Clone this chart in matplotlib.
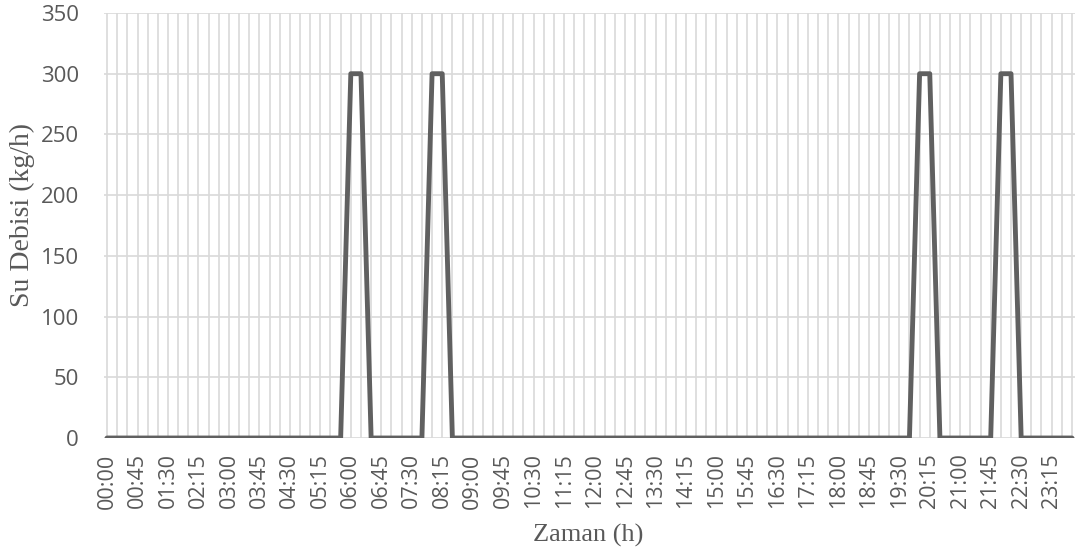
import matplotlib
matplotlib.use("Agg")
import matplotlib.pyplot as plt
import numpy as np

# 15-minute time slots over a day
times = [f"{h:02d}:{m:02d}" for h in range(24) for m in (0, 15, 30, 45)]
flow = [0] * 96
peak_slots = ["06:00", "06:15", "08:00", "08:15", "20:00", "20:15", "22:00", "22:15"]
peak_value = 300
for t in peak_slots:
    flow[times.index(t)] = peak_value

yticks = [0, 50, 100, 150, 200, 250, 300, 350]

fig = plt.figure(figsize=(10.8, 5.54), dpi=100)
ax = fig.add_axes([104/1080, 1 - 438/554, (1075 - 104)/1080, (438 - 13)/554])

x = np.arange(len(times))
ax.plot(x, flow, color="#606060", linewidth=3.5, solid_joinstyle="round", solid_capstyle="round", zorder=3)

ax.set_xlim(-0.3, len(times) - 0.7)
ax.set_ylim(0, 350)
ax.set_yticks(yticks)
ax.set_xticks(x, minor=False)
ax.set_xticklabels([t if i % 3 == 0 else "" for i, t in enumerate(times)], rotation=90,
                   fontsize=15.5, color="#595959", family="Open Sans")
ax.set_yticklabels([str(v) for v in yticks], fontsize=16, color="#595959", family="Open Sans")
ax.tick_params(axis="x", length=0, pad=11)
ax.tick_params(axis="y", length=0, pad=18)
ax.grid(True, color="#d9d9d9", linewidth=1.2, zorder=0)
ax.set_axisbelow(True)
for s in ax.spines.values():
    s.set_visible(False)

fig.text(22/1080, 1 - 215/554, "Su Debisi (kg/h)", family="Liberation Serif", fontsize=20,
         color="#595959", rotation=90, ha="center", va="center")
fig.text(588/1080, 1 - 535/554, "Zaman (h)", family="Liberation Serif", fontsize=19,
         color="#595959", ha="center", va="center")

fig.savefig("out.png", dpi=100)
